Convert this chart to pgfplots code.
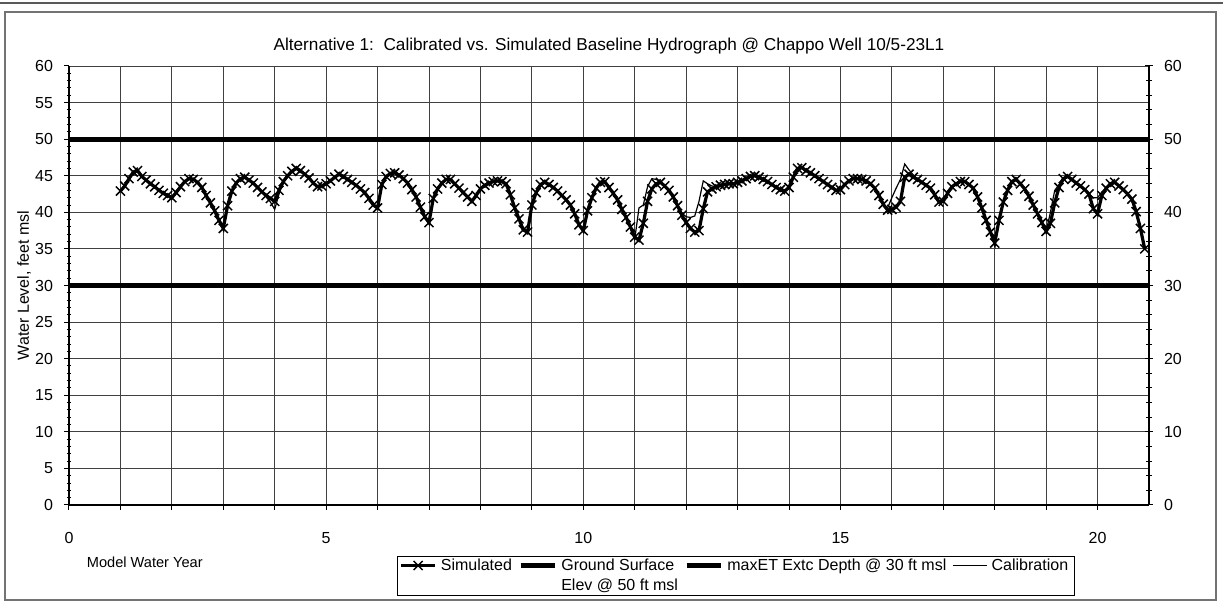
\documentclass[border=0pt]{standalone}
\usepackage{pgfplots}
\pgfplotsset{compat=1.18}
\usepackage{pgfplotstable}
\usepackage{fontspec}
\setmainfont{Liberation Sans}

\pgfplotstableread{
t v
1.000 42.9
1.083 43.6
1.167 44.6
1.250 45.5
1.333 45.7
1.417 44.9
1.500 44.4
1.583 43.9
1.667 43.5
1.750 43.0
1.833 42.6
1.917 42.3
2.000 42.0
2.083 42.7
2.167 43.5
2.250 44.2
2.333 44.6
2.417 44.5
2.500 44.1
2.583 43.4
2.667 42.3
2.750 41.3
2.833 40.2
2.917 38.9
3.000 37.8
3.083 40.9
3.167 42.9
3.250 44.0
3.333 44.6
3.417 44.8
3.500 44.4
3.583 44.0
3.667 43.4
3.750 42.8
3.833 42.3
3.917 41.9
4.000 41.5
4.083 43.0
4.167 44.2
4.250 45.0
4.333 45.6
4.417 46.0
4.500 45.7
4.583 45.2
4.667 44.7
4.750 44.0
4.833 43.5
4.917 43.6
5.000 43.9
5.083 44.3
5.167 44.8
5.250 45.2
5.333 44.9
5.417 44.5
5.500 44.1
5.583 43.7
5.667 43.2
5.750 42.7
5.833 41.9
5.917 41.0
6.000 40.6
6.083 43.8
6.167 44.9
6.250 45.3
6.333 45.4
6.417 45.1
6.500 44.6
6.583 44.0
6.667 43.1
6.750 42.1
6.833 40.7
6.917 39.4
7.000 38.6
7.083 41.9
7.167 43.2
7.250 44.0
7.333 44.5
7.417 44.5
7.500 43.9
7.583 43.3
7.667 42.7
7.750 42.1
7.833 41.5
7.917 42.3
8.000 43.2
8.083 43.7
8.167 44.0
8.250 44.2
8.333 44.3
8.417 44.2
8.500 43.9
8.583 42.4
8.667 40.6
8.750 39.1
8.833 37.6
8.917 37.3
9.000 41.0
9.083 42.7
9.167 43.8
9.250 44.1
9.333 43.8
9.417 43.4
9.500 42.9
9.583 42.3
9.667 41.7
9.750 41.0
9.833 39.8
9.917 38.3
10.000 37.5
10.083 40.2
10.167 42.0
10.250 43.3
10.333 44.1
10.417 44.2
10.500 43.4
10.583 42.6
10.667 41.7
10.750 40.4
10.833 39.3
10.917 38.0
11.000 36.6
11.083 36.2
11.167 38.5
11.250 41.5
11.333 43.2
11.417 43.9
11.500 44.1
11.583 43.6
11.667 43.0
11.750 42.1
11.833 40.9
11.917 39.6
12.000 38.6
12.083 37.8
12.167 37.3
12.250 37.5
12.333 40.5
12.417 42.8
12.500 43.2
12.583 43.5
12.667 43.7
12.750 43.8
12.833 43.9
12.917 43.9
13.000 44.1
13.083 44.3
13.167 44.6
13.250 44.9
13.333 45.0
13.417 44.8
13.500 44.5
13.583 44.2
13.667 43.8
13.750 43.4
13.833 43.1
13.917 42.9
14.000 43.4
14.083 44.8
14.167 46.0
14.250 46.1
14.333 45.7
14.417 45.4
14.500 45.0
14.583 44.6
14.667 44.2
14.750 43.8
14.833 43.4
14.917 43.0
15.000 43.1
15.083 43.8
15.167 44.3
15.250 44.6
15.333 44.6
15.417 44.5
15.500 44.3
15.583 43.9
15.667 43.3
15.750 42.3
15.833 41.1
15.917 40.3
16.000 40.4
16.083 40.7
16.167 41.5
16.250 44.8
16.333 45.2
16.417 44.8
16.500 44.5
16.583 44.1
16.667 43.7
16.750 43.3
16.833 42.4
16.917 41.4
17.000 41.5
17.083 42.6
17.167 43.5
17.250 43.9
17.333 44.2
17.417 44.2
17.500 43.8
17.583 43.3
17.667 42.1
17.750 40.6
17.833 38.9
17.917 37.3
18.000 35.8
18.083 38.9
18.167 41.4
18.250 43.0
18.333 44.2
18.417 44.5
18.500 43.9
18.583 43.2
18.667 42.2
18.750 41.0
18.833 39.8
18.917 38.6
19.000 37.4
19.083 38.5
19.167 41.3
19.250 43.4
19.333 44.6
19.417 44.9
19.500 44.5
19.583 44.0
19.667 43.6
19.750 43.1
19.833 42.5
19.917 40.5
20.000 39.8
20.083 42.3
20.167 43.3
20.250 43.9
20.333 44.1
20.417 43.6
20.500 43.1
20.583 42.5
20.667 41.8
20.750 40.1
20.833 37.8
20.917 35.0
}\simdata

\pgfplotstableread{
t v
1.000 42.9
1.083 43.6
1.167 44.6
1.250 45.5
1.333 45.7
1.417 44.9
1.500 44.4
1.583 43.9
1.667 43.5
1.750 43.0
1.833 42.6
1.917 42.3
2.000 42.0
2.083 42.7
2.167 43.5
2.250 44.2
2.333 44.6
2.417 44.5
2.500 44.1
2.583 43.4
2.667 42.3
2.750 41.3
2.833 40.2
2.917 38.9
3.000 37.8
3.083 40.9
3.167 42.9
3.250 44.0
3.333 44.6
3.417 44.8
3.500 44.4
3.583 44.0
3.667 43.4
3.750 42.8
3.833 42.1
3.917 41.4
4.000 40.4
4.083 42.5
4.167 44.2
4.250 45.0
4.333 45.6
4.417 46.0
4.500 45.7
4.583 45.2
4.667 44.7
4.750 44.0
4.833 43.5
4.917 43.6
5.000 43.9
5.083 44.3
5.167 44.8
5.250 45.2
5.333 44.9
5.417 44.5
5.500 44.1
5.583 43.7
5.667 43.2
5.750 42.7
5.833 41.9
5.917 41.0
6.000 40.6
6.083 43.8
6.167 44.9
6.250 45.3
6.333 45.4
6.417 45.1
6.500 44.6
6.583 44.0
6.667 43.1
6.750 42.1
6.833 40.7
6.917 39.4
7.000 38.6
7.083 41.9
7.167 43.2
7.250 44.0
7.333 44.5
7.417 44.5
7.500 43.9
7.583 43.3
7.667 42.7
7.750 42.1
7.833 41.5
7.917 42.3
8.000 43.2
8.083 43.7
8.167 44.0
8.250 44.2
8.333 44.3
8.417 44.2
8.500 43.9
8.583 42.4
8.667 40.6
8.750 39.1
8.833 37.6
8.917 37.3
9.000 41.0
9.083 42.7
9.167 43.8
9.250 44.1
9.333 43.8
9.417 43.4
9.500 42.9
9.583 42.3
9.667 41.7
9.750 41.0
9.833 39.8
9.917 38.3
10.000 37.5
10.083 40.2
10.167 42.0
10.250 43.3
10.333 44.1
10.417 44.2
10.500 43.4
10.583 42.6
10.667 41.7
10.750 40.4
10.833 39.3
10.917 38.0
11.000 36.3
11.083 40.6
11.167 41.0
11.250 43.5
11.333 44.6
11.417 44.5
11.500 44.2
11.583 43.6
11.667 43.0
11.750 42.1
11.833 40.9
11.917 39.9
12.000 39.4
12.083 39.3
12.167 39.5
12.250 41.5
12.333 44.3
12.417 43.9
12.500 43.6
12.583 43.5
12.667 43.7
12.750 43.8
12.833 43.9
12.917 43.9
13.000 44.1
13.083 44.3
13.167 44.6
13.250 44.9
13.333 45.0
13.417 44.8
13.500 44.5
13.583 44.2
13.667 43.8
13.750 43.4
13.833 43.1
13.917 42.9
14.000 43.4
14.083 44.8
14.167 46.0
14.250 46.1
14.333 45.7
14.417 45.4
14.500 45.0
14.583 44.6
14.667 44.2
14.750 43.8
14.833 43.4
14.917 43.0
15.000 43.1
15.083 43.8
15.167 44.3
15.250 44.6
15.333 44.6
15.417 44.5
15.500 44.3
15.583 43.9
15.667 43.3
15.750 42.3
15.833 41.1
15.917 40.6
16.000 42.0
16.083 43.3
16.167 44.5
16.250 46.6
16.333 45.8
16.417 45.1
16.500 44.5
16.583 44.1
16.667 43.7
16.750 43.3
16.833 42.4
16.917 41.4
17.000 41.5
17.083 42.6
17.167 43.5
17.250 43.9
17.333 44.2
17.417 44.2
17.500 43.8
17.583 43.3
17.667 42.1
17.750 40.6
17.833 38.9
17.917 37.3
18.000 35.8
18.083 38.9
18.167 41.4
18.250 43.0
18.333 44.2
18.417 44.5
18.500 43.9
18.583 43.2
18.667 42.2
18.750 41.0
18.833 39.8
18.917 38.6
19.000 37.4
19.083 40.0
19.167 43.0
19.250 43.8
19.333 44.6
19.417 44.9
19.500 44.5
19.583 44.0
19.667 43.6
19.750 43.1
19.833 42.5
19.917 42.0
20.000 42.0
20.083 42.8
20.167 43.3
20.250 43.9
20.333 44.1
20.417 43.6
20.500 43.1
20.583 42.5
20.667 41.8
20.750 40.1
20.833 37.8
20.917 35.0
}\caldata

\begin{document}
\begin{tikzpicture}[font=\fontsize{8}{9.6}\selectfont]
\useasboundingbox (-34.5pt,-49.5pt) rectangle (577pt,252.5pt);
\draw[black!55, line width=0.6pt] (-32pt,-47.5pt) rectangle (573.5pt,246.5pt);
\draw[black!65, line width=1.2pt] (-34.5pt,251pt) -- (577pt,251pt);
\begin{axis}[
  at={(0pt,0pt)}, anchor=south west,
  scale only axis, width=540pt, height=219.5pt,
  xmin=0, xmax=21, ymin=0, ymax=60,
  axis x line*=bottom, axis y line*=left,
  axis line style={black, line width=0.9pt},
  xtick={0,1,...,20},
  xticklabels={0,,,,,5,,,,,10,,,,,15,,,,,20},
  ytick={0,5,...,60}, minor y tick num=4,
  grid=major, major grid style={black!75, line width=0.45pt},
  tick align=outside,
  major tick length=2.5pt, minor tick length=2pt,
  tick style={black, line width=0.5pt},
  minor y tick style={/pgfplots/tick align=center},
  /pgf/number format/assume math mode=true,
  ticklabel style={font=\fontsize{8}{9.6}\selectfont},
  xticklabel style={yshift=-7.5pt},
  yticklabel style={xshift=-2pt},
  ylabel={Water Level, feet msl},
  ylabel style={at={(axis description cs:0,0.5)}, anchor=center, yshift=22.5pt, font=\fontsize{8}{9.6}\selectfont},
  title={Alternative 1:\ \ Calibrated vs. Simulated Baseline Hydrograph @ Chappo Well 10/5-23L1},
  title style={at={(axis description cs:0.5,1)}, anchor=south, yshift=-3.5pt, font=\fontsize{8.6}{10}\selectfont},
  clip=false,
  legend columns=4,
  legend style={at={(rel axis cs:0.3037,0)}, anchor=north west, yshift=-25.5pt,
    draw=black, line width=0.5pt, inner xsep=1pt, inner ysep=0.5pt,
    font=\fontsize{8}{9.6}\selectfont, cells={anchor=base west},
    nodes={inner ysep=0.8pt},
    row sep=0.8pt,
    /tikz/every even column/.append style={column sep=1pt}},
  legend image post style={yshift=2.6pt},
]
\addplot[black, line width=1.6pt, mark=x, mark size=3.2pt, mark options={line width=0.75pt, solid}] table[x=t, y=v] {\simdata};
\addlegendentry{Simulated}
\addplot[black, line width=2.6pt] coordinates {(0,50) (21,50)};
\addlegendentry{Ground Surface}
\addplot[black, line width=2.6pt] coordinates {(0,30) (21,30)};
\addlegendentry{maxET Extc Depth @ 30 ft msl}
\addplot[black, line width=0.6pt] table[x=t, y=v] {\caldata};
\addlegendentry{Calibration}
\addlegendimage{empty legend}
\addlegendentry{}
\addlegendimage{empty legend}
\addlegendentry{Elev @ 50 ft msl}
\addlegendimage{empty legend}
\addlegendentry{}
\addlegendimage{empty legend}
\addlegendentry{}
\node[anchor=west, font=\fontsize{7.3}{8.8}\selectfont] at (rel axis cs:0.01,0) [yshift=-28.5pt] {Model Water Year};
\end{axis}
\begin{axis}[
  at={(0pt,0pt)}, anchor=south west,
  scale only axis, width=540pt, height=219.5pt,
  xmin=0, xmax=21, ymin=0, ymax=60,
  axis x line=none, axis y line*=right,
  axis line style={black, line width=0.9pt},
  ytick={0,10,...,60}, minor y tick num=4,
  tick align=center,
  major tick length=4pt, minor tick length=3pt,
  tick style={black, line width=0.5pt},
  /pgf/number format/assume math mode=true,
  ticklabel style={font=\fontsize{8}{9.6}\selectfont},
  yticklabel style={xshift=2pt},
]
\addplot[draw=none] coordinates {(0,0)};
\end{axis}
\end{tikzpicture}
\end{document}
